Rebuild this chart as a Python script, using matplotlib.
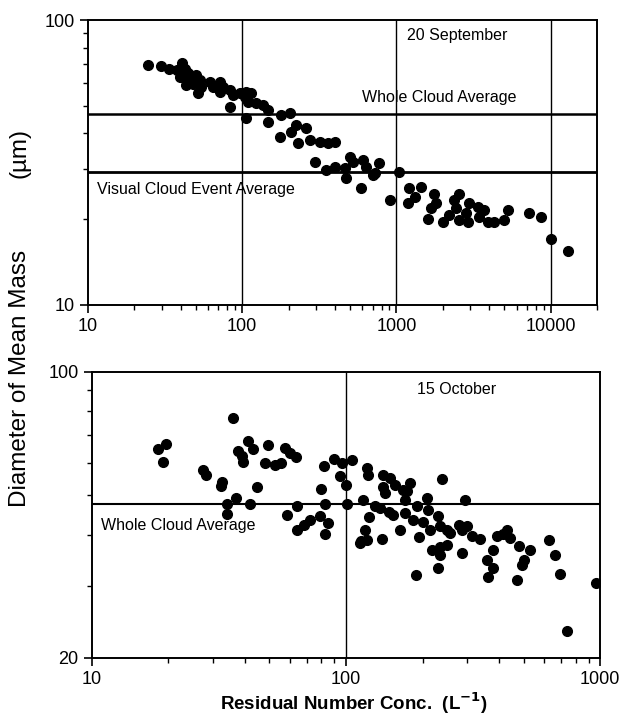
import matplotlib
matplotlib.use("Agg")
import matplotlib.pyplot as plt
from matplotlib.ticker import LogLocator, NullFormatter, FixedLocator, FixedFormatter

plt.rcParams['font.family'] = ['Liberation Sans', 'DejaVu Sans']

# ---- 20 September (top panel) ----
sep_conc = [24.5, 29.9, 33.4, 40.4, 42.4, 37.5, 44.6, 39.4, 41.4, 46.9,
            50.5, 53.1, 43.5, 48.0, 54.4, 51.8, 61.6, 64.7, 71.5, 75.1,
            71.5, 83, 87.1, 96.3, 103.7, 106.4, 114.7, 109.2, 83, 106.4,
            123.6, 136.4, 147, 147, 179.5, 203, 175, 208, 224, 260,
            230, 273, 318, 359, 397, 295, 351, 397, 461, 497,
            521, 472, 605, 637, 703, 776, 590, 721, 1045, 902,
            1213, 1445, 1183, 1309, 1763, 1678, 1596, 1808, 1995, 2205,
            2374, 2558, 2434, 2558, 2828, 2893, 2965, 3357, 3713, 3444,
            3900, 4305, 5000, 5250, 7260, 8650, 10050, 13030]
sep_dmm = [69.5, 69.2, 67.6, 70.5, 67.6, 66.8, 65.0, 63.2, 63.2, 62.4,
           64.1, 61.5, 59.1, 59.9, 58.3, 55.3, 60.7, 58.3, 60.7, 58.3,
           56.0, 56.8, 54.5, 55.3, 53.8, 56.0, 55.3, 51.7, 49.6, 45.2,
           51.0, 50.3, 48.3, 44.0, 46.4, 47.0, 39.0, 40.6, 42.8, 41.7,
           36.9, 37.9, 37.4, 36.9, 37.2, 31.8, 29.8, 30.4, 30.2, 33.1,
           31.8, 27.8, 32.3, 30.6, 28.6, 31.4, 25.7, 29.0, 29.4, 23.4,
           25.7, 26.0, 22.7, 24.0, 24.6, 21.8, 20.1, 22.7, 19.6, 20.7,
           23.4, 24.6, 21.8, 19.9, 21.0, 19.6, 22.7, 22.1, 21.5, 20.4,
           19.6, 19.6, 19.9, 21.5, 21.0, 20.4, 17.0, 15.5]
sep_whole_avg = 46.8
sep_visual_avg = 29.4

# ---- 15 October (bottom panel) ----
oct_conc = [18.2, 19.6, 19.1, 35.8, 27.4, 28.1, 32.4, 32.2, 33.9, 33.9,
            36.9, 37.7, 39.1, 39.4, 41.2, 43.2, 44.5, 41.9, 49.2, 48.0,
            52.5, 55.5, 57.5, 60.2, 63.5, 58.4, 64.3, 64.0, 68.4, 72.1,
            79.0, 85.2, 82.7, 79.4, 83.0, 81.9, 89.7, 96.2, 105.3, 94.3,
            100.4, 100.6, 121.3, 122.4, 140.2, 149.0, 140.2, 142.4, 156, 168,
            178.6, 173.4, 170.7, 238, 117, 130, 136, 147, 153.6, 170.7,
            123.6, 209, 294, 190, 211, 184, 201, 231, 214, 235,
            249, 277, 257, 285, 299, 313, 337, 119, 115, 121,
            138, 163, 194, 217, 235, 249, 235, 231, 189, 285,
            392, 429, 442, 477, 380, 416, 530, 499, 492, 358,
            380, 363, 470, 630, 665, 692, 964, 740, 113.5]
oct_dmm = [64.7, 66.6, 60.2, 77.0, 57.6, 56.0, 53.9, 52.6, 47.6, 45.0,
           49.1, 64.2, 62.1, 60.2, 67.6, 64.7, 52.3, 47.5, 66.3, 59.8,
           59.3, 59.8, 65.1, 63.3, 61.8, 44.7, 46.9, 41.1, 42.3, 43.5,
           44.4, 42.7, 40.1, 51.8, 47.5, 58.7, 61.1, 60.0, 60.9, 55.5,
           52.9, 47.6, 58.1, 56.0, 56.0, 55.0, 52.4, 50.5, 52.9, 51.5,
           53.5, 51.0, 48.7, 54.7, 48.7, 46.9, 46.4, 45.5, 44.7, 45.1,
           44.1, 49.1, 48.5, 46.9, 46.0, 43.5, 43.0, 44.3, 41.1, 41.9,
           41.1, 42.3, 40.3, 41.1, 41.9, 39.6, 39.0, 41.1, 38.5, 38.8,
           39.0, 41.1, 39.4, 36.7, 37.4, 37.8, 35.7, 33.1, 31.9, 36.0,
           39.6, 41.1, 39.2, 37.6, 36.7, 40.1, 36.6, 34.7, 33.7, 34.7,
           33.1, 31.6, 31.0, 38.8, 35.7, 32.1, 30.4, 23.3, 38.1]
oct_whole_avg = 47.6

fig = plt.figure(figsize=(6.24, 7.19), dpi=100)
ax1 = fig.add_axes([0.141, 0.576, 0.816, 0.396])
ax2 = fig.add_axes([0.147, 0.085, 0.815, 0.398])


def style_axis(ax, xlim, ylim, yticks, xgrid):
    ax.set_xscale("log")
    ax.set_yscale("log")
    ax.set_xlim(*xlim)
    ax.set_ylim(*ylim)
    for g in xgrid:
        ax.axvline(g, color="black", lw=1.0, zorder=1)
    ax.xaxis.set_major_locator(LogLocator(base=10))
    ax.xaxis.set_minor_locator(LogLocator(base=10, subs=range(2, 10)))
    ax.xaxis.set_minor_formatter(NullFormatter())
    ax.xaxis.set_major_formatter(plt.FuncFormatter(lambda v, p: "%d" % v))
    ax.yaxis.set_major_locator(FixedLocator(yticks))
    ax.yaxis.set_major_formatter(FixedFormatter([str(t) for t in yticks]))
    ax.yaxis.set_minor_locator(LogLocator(base=10, subs=range(2, 10)))
    ax.yaxis.set_minor_formatter(NullFormatter())
    ax.tick_params(which="major", direction="out", length=6, width=1.2,
                   labelsize=13, colors="black")
    ax.tick_params(which="minor", direction="out", length=3.5, width=1.0)
    for s in ax.spines.values():
        s.set_linewidth(1.4)


# top panel
style_axis(ax1, (10, 20000), (10, 100), [10, 100], [100, 1000, 10000])
ax1.axhline(sep_whole_avg, color="black", lw=1.8, zorder=2)
ax1.axhline(sep_visual_avg, color="black", lw=2.0, zorder=2)
ax1.plot(sep_conc, sep_dmm, "o", color="black", ms=7, zorder=3)
ax1.text(0.627, 0.947, "20 September", transform=ax1.transAxes,
         fontsize=11.5, va="center", ha="left")
ax1.text(0.538, 0.730, "Whole Cloud Average", transform=ax1.transAxes,
         fontsize=11.5, va="center", ha="left")
ax1.text(0.018, 0.404, "Visual Cloud Event Average", transform=ax1.transAxes,
         fontsize=11.5, va="center", ha="left")

# bottom panel
style_axis(ax2, (10, 1000), (20, 100), [20, 100], [100])
ax2.axhline(oct_whole_avg, color="black", lw=1.5, zorder=2)
ax2.plot(oct_conc, oct_dmm, "o", color="black", ms=7, zorder=3)
ax2.text(0.640, 0.937, "15 October", transform=ax2.transAxes,
         fontsize=11.5, va="center", ha="left")
ax2.text(0.018, 0.462, "Whole Cloud Average", transform=ax2.transAxes,
         fontsize=11.5, va="center", ha="left")

# shared labels
fig.text(0.032, 1 - 378 / 719, "Diameter of Mean Mass", rotation=90,
         fontsize=17.5, ha="center", va="center")
fig.text(0.032, 1 - 153 / 719, "(\u00b5m)", rotation=90,
         fontsize=17.5, ha="center", va="center")
fig.text(354 / 624, 1 - 703 / 719, "Residual Number Conc.  (L$^{\\mathbf{-1}}$)",
         fontsize=13.5, fontweight="bold", ha="center", va="center")

fig.savefig("out.png", dpi=100)
